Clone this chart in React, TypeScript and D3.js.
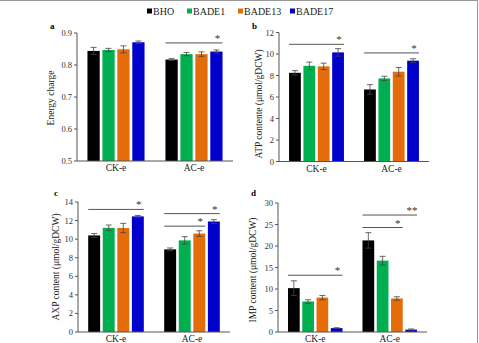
import React from 'react';
import * as d3 from 'd3';

const groups = ['CK-e', 'AC-e'];
const strains = ['BHO', 'BADE1', 'BADE13', 'BADE17'];
const colors = ['#000000', '#00b050', '#e46c0a', '#0000cc'];

// values per group, in strain order
const energyCharge = [[0.844, 0.847, 0.849, 0.871], [0.817, 0.834, 0.834, 0.842]];
const energyErr = [[0.011, 0.005, 0.011, 0.004], [0.003, 0.005, 0.007, 0.005]];
const atp = [[8.25, 8.9, 8.85, 10.15], [6.7, 7.73, 8.35, 9.38]];
const atpErr = [[0.2, 0.35, 0.3, 0.35], [0.45, 0.2, 0.4, 0.18]];
const axp = [[10.4, 11.22, 11.2, 12.45], [8.9, 9.87, 10.6, 11.9]];
const axpErr = [[0.2, 0.3, 0.5, 0.1], [0.15, 0.4, 0.3, 0.2]];
const imp = [[10.2, 7.1, 8.0, 0.9], [21.3, 16.6, 7.8, 0.55]];
const impErr = [[1.7, 0.4, 0.5, 0.1], [1.8, 1.0, 0.4, 0.15]];

// significance marks: group, last strain index spanned, height, label
type Sig = { g: number; to: number; y: number; label: string };
const energySig: Sig[] = [{ g: 1, to: 3, y: 0.869, label: '*' }];
const atpSig: Sig[] = [{ g: 0, to: 3, y: 10.9, label: '*' }, { g: 1, to: 3, y: 10.1, label: '*' }];
const axpSig: Sig[] = [
  { g: 0, to: 3, y: 13.2, label: '*' },
  { g: 1, to: 3, y: 12.75, label: '*' },
  { g: 1, to: 2, y: 11.4, label: '*' },
];
const impSig: Sig[] = [
  { g: 0, to: 3, y: 13.2, label: '*' },
  { g: 1, to: 3, y: 27.2, label: '**' },
  { g: 1, to: 2, y: 24.3, label: '*' },
];

const energyTicks = [0.5, 0.6, 0.7, 0.8, 0.9];
const atpTicks = [0, 2, 4, 6, 8, 10, 12];
const axpTicks = [0, 2, 4, 6, 8, 10, 12, 14];
const impTicks = [0, 5, 10, 15, 20, 25, 30];

const font = '"Liberation Serif", "Times New Roman", serif';

interface PanelProps {
  letter: string;
  title: string;
  left: number; right: number; top: number; bottom: number;
  domain: [number, number];
  ticks: number[];
  fmt: (v: number) => string;
  values: number[][];
  errs: number[][];
  sigs: Sig[];
  letterPos: [number, number];
  titlePos: [number, number];
}

const Panel = (p: PanelProps) => {
  const x0 = d3.scaleBand().domain(groups).range([p.left, p.right]).padding(0);
  const x1 = d3.scaleBand().domain(strains).range([0, x0.bandwidth()])
    .paddingInner(0.18).paddingOuter(0.7);
  const y = d3.scaleLinear().domain(p.domain).range([p.bottom, p.top]);
  return (
    <g>
      <text x={p.letterPos[0]} y={p.letterPos[1]} fontSize={9} fontWeight="bold" fontFamily={font}>{p.letter}</text>
      <text transform={`translate(${p.titlePos[0]},${p.titlePos[1]}) rotate(-90)`} textAnchor="middle"
        fontSize={9.5} fontFamily={font} fill="#222">{p.title}</text>
      {groups.map((g, gi) => strains.map((s, si) => {
        const v = p.values[gi][si];
        const e = p.errs[gi][si];
        const bx = x0(g)! + x1(s)!;
        const cx = bx + x1.bandwidth() / 2;
        return (
          <g key={g + s}>
            <rect x={bx} y={y(v)} width={x1.bandwidth()} height={y(p.domain[0]) - y(v)} fill={colors[si]} />
            <line x1={cx} x2={cx} y1={y(v - e)} y2={y(v + e)} stroke="#444" strokeWidth={0.8} />
            <line x1={cx - 3} x2={cx + 3} y1={y(v + e)} y2={y(v + e)} stroke="#444" strokeWidth={0.8} />
            <line x1={cx - 3} x2={cx + 3} y1={y(v - e)} y2={y(v - e)} stroke="#444" strokeWidth={0.8} />
          </g>
        );
      }))}
      <line x1={p.left} x2={p.left} y1={p.top} y2={p.bottom} stroke="#555" strokeWidth={1} />
      <line x1={p.left} x2={p.right} y1={p.bottom} y2={p.bottom} stroke="#555" strokeWidth={1} />
      {p.ticks.map(t => (
        <g key={t}>
          <line x1={p.left - 3} x2={p.left} y1={y(t)} y2={y(t)} stroke="#555" />
          <text x={p.left - 5} y={y(t) + 3} textAnchor="end" fontSize={8.5} fontFamily={font} fill="#333">{p.fmt(t)}</text>
        </g>
      ))}
      {groups.map(g => (
        <text key={g} x={x0(g)! + x0.bandwidth() / 2} y={p.bottom + 10} textAnchor="middle" fontSize={9.5}
          fontFamily={font} fill="#222">{g}</text>
      ))}
      {p.sigs.map((s, i) => {
        const xa = x0(groups[s.g])! + x1(strains[0])!;
        const xb = x0(groups[s.g])! + x1(strains[s.to])! + x1.bandwidth();
        return (
          <g key={i}>
            <line x1={xa} x2={xb} y1={y(s.y)} y2={y(s.y)} stroke="#555" strokeWidth={1} />
            <text x={xb - 5} y={y(s.y) - 1} textAnchor="middle" fontSize={11} fontFamily={font} fill="#333">{s.label}</text>
          </g>
        );
      })}
    </g>
  );
};

const legendX = [147, 187, 238, 290];

export default function App() {
  return (
    <svg width={479} height={343} style={{ position: 'fixed', left: 0, top: 0, background: '#fff' }}>
      <rect x={0} y={0} width={479} height={343} fill="#fff" />
      <line x1={0} x2={478} y1={0.5} y2={0.5} stroke="#999" />
      <line x1={477.5} x2={477.5} y1={0} y2={343} stroke="#999" />
      {strains.map((s, i) => (
        <g key={s}>
          <rect x={legendX[i]} y={8.5} width={5} height={5} fill={colors[i]} />
          <text x={legendX[i] + 6} y={14.5} fontSize={10} fontFamily={font} fill="#222">{s}</text>
        </g>
      ))}
      <Panel letter="a" title="Energy charge" left={77} right={233} top={33} bottom={161}
        domain={[0.5, 0.9]} ticks={energyTicks} fmt={d3.format('.1f')} values={energyCharge} errs={energyErr}
        sigs={energySig} letterPos={[50, 29]} titlePos={[54, 98]} />
      <Panel letter="b" title="ATP contente (μmol/gDCW)" left={279} right={429} top={32.5} bottom={161.5}
        domain={[0, 12]} ticks={atpTicks} fmt={d3.format('d')} values={atp} errs={atpErr}
        sigs={atpSig} letterPos={[252, 29]} titlePos={[262, 104]} />
      <Panel letter="c" title="AXP content (μmol/gDCW)" left={78} right={230} top={202} bottom={332}
        domain={[0, 14]} ticks={axpTicks} fmt={d3.format('d')} values={axp} errs={axpErr}
        sigs={axpSig} letterPos={[54, 196]} titlePos={[59, 267]} />
      <Panel letter="d" title="IMP content (μmol/gDCW)" left={278} right={427} top={203} bottom={332}
        domain={[0, 30]} ticks={impTicks} fmt={d3.format('d')} values={imp} errs={impErr}
        sigs={impSig} letterPos={[251, 196]} titlePos={[256, 270]} />
    </svg>
  );
}
